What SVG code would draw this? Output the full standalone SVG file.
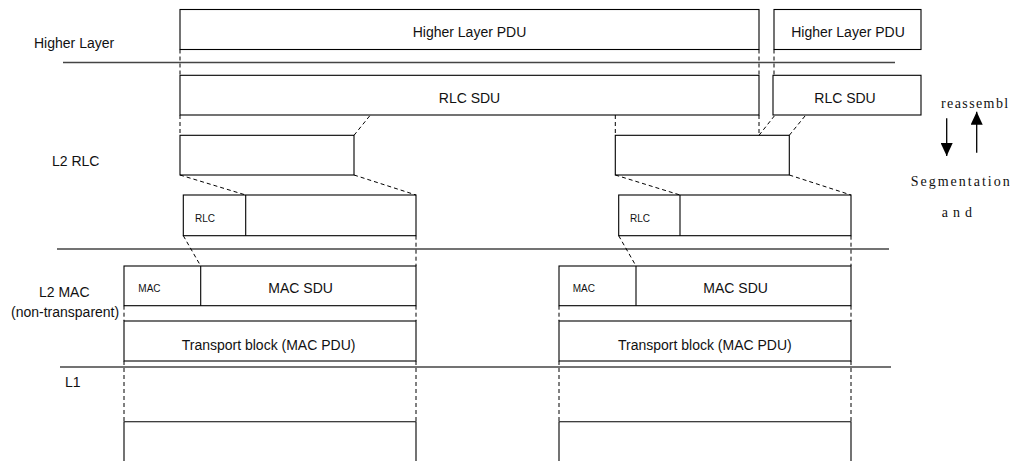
<svg xmlns="http://www.w3.org/2000/svg" width="1016" height="461" viewBox="0 0 1016 461">
<style>
.box{fill:none;stroke:#000;stroke-width:1.1}
.sep{fill:none;stroke:#444;stroke-width:1.3}
.dash{fill:none;stroke:#000;stroke-width:1;stroke-dasharray:4 3}
.t{font-family:"Liberation Sans",Arial,sans-serif;font-size:14px;fill:#111}
.s{font-family:"Liberation Sans",Arial,sans-serif;font-size:10px;fill:#111}
.m{text-anchor:middle}
.r{font-family:"Liberation Serif","Times New Roman",serif;font-size:14px;fill:#111}
</style>
<defs>
<marker id="ah" markerWidth="14" markerHeight="12" refX="13" refY="6" orient="auto" markerUnits="userSpaceOnUse" viewBox="0 0 14 12">
<path d="M0,0 L13,6 L0,12 Z" fill="#000"/>
</marker>
</defs>
<g id="layers">
<line class="sep" x1="63" y1="62.5" x2="895" y2="62.5"/>
<line class="sep" x1="57" y1="249" x2="889" y2="249"/>
<line class="sep" x1="60" y1="367" x2="891" y2="367"/>
<text class="t" x="34" y="48">Higher Layer</text>
<text class="t" x="52" y="166">L2 RLC</text>
<text class="t" x="39" y="297">L2 MAC</text>
<text class="t" x="11" y="317">(non-transparent)</text>
<text class="t" x="65" y="387">L1</text>
</g>
<g id="hl-pdu-1"><rect class="box" x="180" y="9.5" width="579" height="40"/><text class="t m" x="469.5" y="37.3">Higher Layer PDU</text></g>
<g id="hl-pdu-2"><rect class="box" x="774" y="9.5" width="147" height="40"/><text class="t m" x="848" y="37.3">Higher Layer PDU</text></g>
<g id="rlc-sdu-1"><rect class="box" x="180" y="75.3" width="579" height="39.7"/><text class="t m" x="469.5" y="102.7">RLC SDU</text></g>
<g id="rlc-sdu-2"><rect class="box" x="773" y="75.3" width="148" height="39.7"/><text class="t m" x="845" y="102.7">RLC SDU</text></g>
<g id="seg-1"><rect class="box" x="180" y="135.3" width="174" height="39.7"/></g>
<g id="seg-2"><rect class="box" x="615.3" y="135.3" width="174" height="39.7"/></g>
<g id="rlc-pdu-1"><rect class="box" x="183.3" y="195" width="232.7" height="40.7"/><line class="box" x1="245.7" y1="195" x2="245.7" y2="235.7"/><text class="s" x="195" y="221.7">RLC</text></g>
<g id="rlc-pdu-2"><rect class="box" x="618.7" y="195" width="232.3" height="40.7"/><line class="box" x1="680" y1="195" x2="680" y2="235.7"/><text class="s" x="630" y="221.7">RLC</text></g>
<g id="mac-pdu-1"><rect class="box" x="124" y="266" width="292" height="39.7"/><line class="box" x1="200.7" y1="266" x2="200.7" y2="305.7"/><text class="s" x="138.3" y="291.7">MAC</text><text class="t" x="268.3" y="293.3">MAC SDU</text></g>
<g id="mac-pdu-2"><rect class="box" x="559" y="266" width="292" height="39.7"/><line class="box" x1="636" y1="266" x2="636" y2="305.7"/><text class="s" x="572.7" y="291.7">MAC</text><text class="t" x="703.3" y="293.3">MAC SDU</text></g>
<g id="tb-1"><rect class="box" x="124" y="321" width="292" height="40"/><text class="t" x="181.7" y="350">Transport block (MAC PDU)</text></g>
<g id="tb-2"><rect class="box" x="559" y="321" width="292" height="40"/><text class="t" x="618" y="350">Transport block (MAC PDU)</text></g>
<g id="l1-1"><path class="box" d="M124,462 V421.7 H416 V462"/></g>
<g id="l1-2"><path class="box" d="M559,462 V421.7 H851 V462"/></g>
<g id="connectors">
<line class="dash" x1="180" y1="49.5" x2="180" y2="75.3"/>
<line class="dash" x1="759" y1="49.5" x2="759" y2="75.3"/>
<line class="dash" x1="774" y1="49.5" x2="774" y2="75.3"/>
<line class="dash" x1="180" y1="115" x2="180" y2="135.3"/>
<line class="dash" x1="759" y1="115" x2="759" y2="135.3"/>
<line class="dash" x1="615.3" y1="115" x2="615.3" y2="135.3"/>
<line class="dash" x1="354" y1="135.3" x2="370" y2="115.5"/>
<line class="dash" x1="759" y1="135.3" x2="774.3" y2="116"/>
<line class="dash" x1="789.3" y1="135.3" x2="805" y2="116"/>
<line class="dash" x1="180" y1="175" x2="245.7" y2="195"/>
<line class="dash" x1="354" y1="175" x2="416" y2="195"/>
<line class="dash" x1="615.3" y1="175" x2="680" y2="195"/>
<line class="dash" x1="789.3" y1="175" x2="851" y2="195"/>
<line class="dash" x1="183.3" y1="235.7" x2="200.7" y2="266"/>
<line class="dash" x1="618.7" y1="235.7" x2="636" y2="266"/>
<line class="dash" x1="416" y1="235.7" x2="416" y2="266"/>
<line class="dash" x1="851" y1="235.7" x2="851" y2="266"/>
<line class="dash" x1="124" y1="305.7" x2="124" y2="321"/>
<line class="dash" x1="416" y1="305.7" x2="416" y2="321"/>
<line class="dash" x1="559" y1="305.7" x2="559" y2="321"/>
<line class="dash" x1="851" y1="305.7" x2="851" y2="321"/>
<line class="dash" x1="124" y1="361" x2="124" y2="421.7"/>
<line class="dash" x1="416" y1="361" x2="416" y2="421.7"/>
<line class="dash" x1="559" y1="361" x2="559" y2="421.7"/>
<line class="dash" x1="851" y1="361" x2="851" y2="421.7"/>
</g>
<g id="legend">
<line x1="946.7" y1="118.3" x2="946.7" y2="156" stroke="#000" stroke-width="1.3" marker-end="url(#ah)"/>
<line x1="976.7" y1="152.7" x2="976.7" y2="111.7" stroke="#000" stroke-width="1.3" marker-end="url(#ah)"/>
<text class="r" x="941" y="108.3" letter-spacing="1.4">reassembl</text>
<text class="r" x="910.7" y="186" letter-spacing="2">Segmentation</text>
<text class="r" x="941.7" y="216.7" letter-spacing="5">and</text>
</g>
</svg>
